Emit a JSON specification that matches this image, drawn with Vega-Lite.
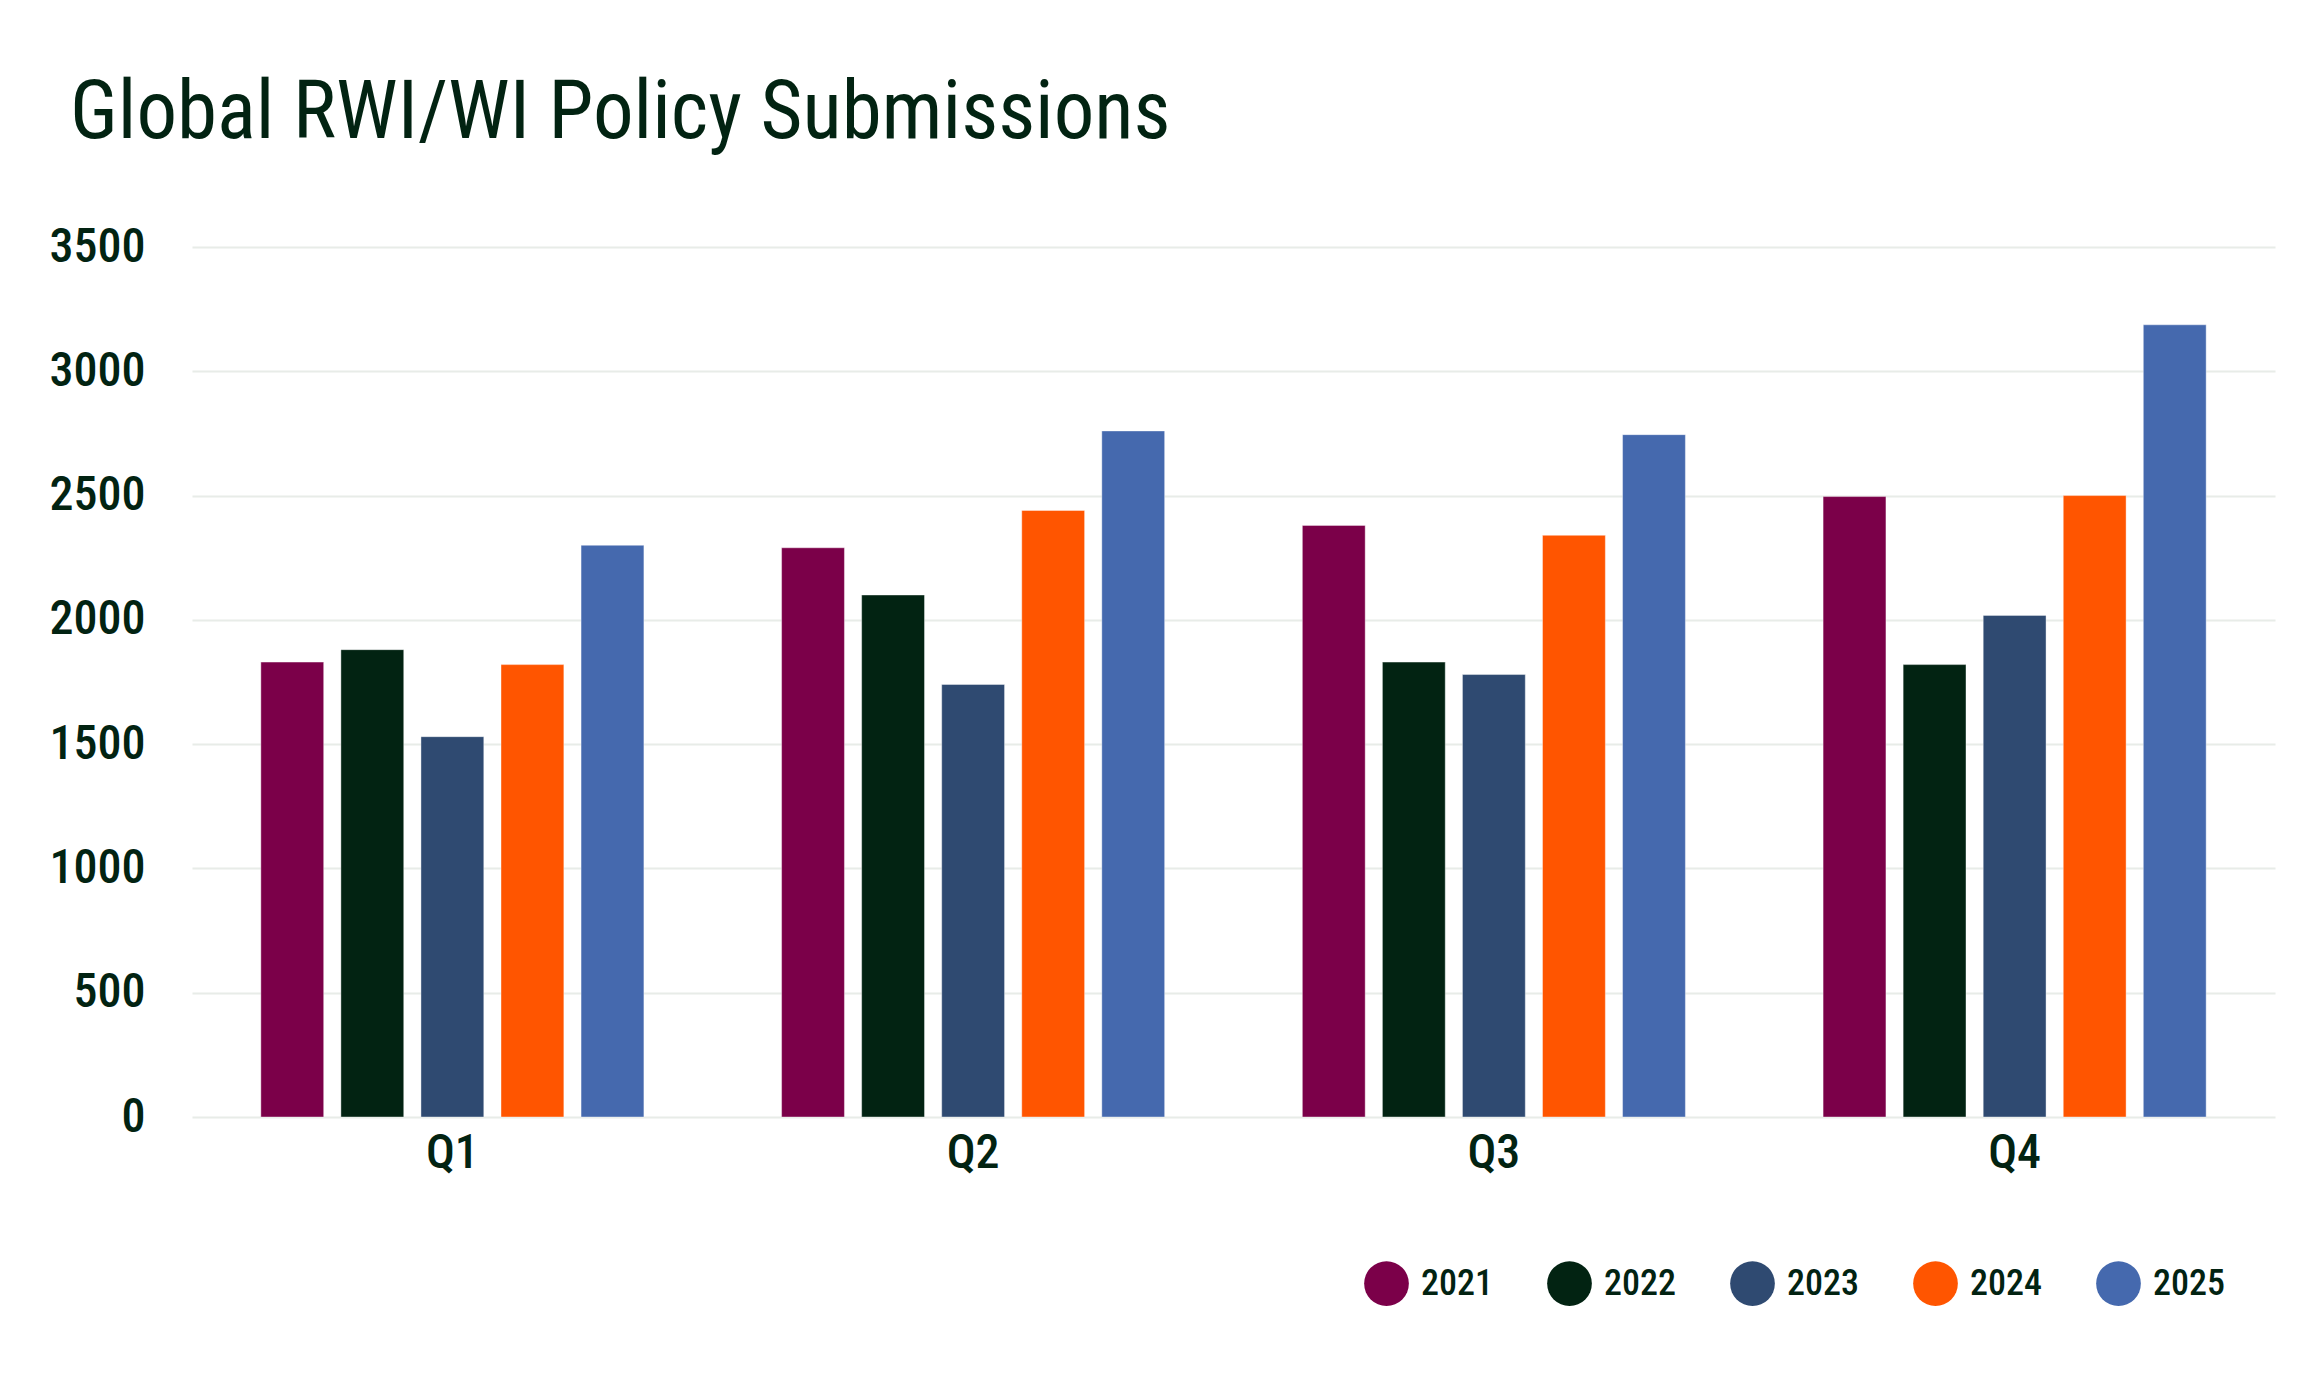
{
  "$schema": "https://vega.github.io/schema/vega-lite/v6.json",
  "width": 2083,
  "height": 870,
  "autosize": "none",
  "padding": {"left": 192, "top": 247, "right": 45, "bottom": 262},
  "background": "#ffffff",
  "title": {
    "text": "Global RWI/WI Policy Submissions",
    "anchor": "start",
    "frame": "group",
    "dx": -122,
    "offset": 68,
    "font": "Roboto Condensed, Roboto, sans-serif",
    "fontSize": 81,
    "fontWeight": "normal",
    "color": "#022312"
  },
  "data": {
    "values": [
      {"quarter": "Q1", "year": "2021", "submissions": 1830},
      {"quarter": "Q1", "year": "2022", "submissions": 1880},
      {"quarter": "Q1", "year": "2023", "submissions": 1530},
      {"quarter": "Q1", "year": "2024", "submissions": 1820},
      {"quarter": "Q1", "year": "2025", "submissions": 2300},
      {"quarter": "Q2", "year": "2021", "submissions": 2290},
      {"quarter": "Q2", "year": "2022", "submissions": 2100},
      {"quarter": "Q2", "year": "2023", "submissions": 1740},
      {"quarter": "Q2", "year": "2024", "submissions": 2440},
      {"quarter": "Q2", "year": "2025", "submissions": 2760},
      {"quarter": "Q3", "year": "2021", "submissions": 2380},
      {"quarter": "Q3", "year": "2022", "submissions": 1830},
      {"quarter": "Q3", "year": "2023", "submissions": 1780},
      {"quarter": "Q3", "year": "2024", "submissions": 2340},
      {"quarter": "Q3", "year": "2025", "submissions": 2745},
      {"quarter": "Q4", "year": "2021", "submissions": 2496},
      {"quarter": "Q4", "year": "2022", "submissions": 1820},
      {"quarter": "Q4", "year": "2023", "submissions": 2018},
      {"quarter": "Q4", "year": "2024", "submissions": 2500},
      {"quarter": "Q4", "year": "2025", "submissions": 3187}
    ]
  },
  "mark": {"type": "bar", "stroke": "#ffffff", "strokeOpacity": 0.4, "strokeWidth": 1},
  "encoding": {
    "x": {
      "field": "quarter",
      "type": "nominal",
      "title": null,
      "scale": {"paddingInner": 0, "paddingOuter": 0},
      "axis": {
        "labelAngle": 0,
        "labelFont": "Roboto Condensed, Roboto, sans-serif",
        "labelFontSize": 48,
        "labelFontWeight": 500,
        "labelColor": "#022312",
        "labelPadding": 12,
        "ticks": false,
        "domain": false,
        "grid": false
      }
    },
    "xOffset": {
      "field": "year",
      "type": "nominal",
      "scale": {"paddingInner": 0.215, "paddingOuter": 0.86}
    },
    "y": {
      "field": "submissions",
      "type": "quantitative",
      "title": null,
      "scale": {"domain": [0, 3500], "nice": false},
      "axis": {
        "values": [0, 500, 1000, 1500, 2000, 2500, 3000, 3500],
        "format": "d",
        "labelFont": "Roboto Condensed, Roboto, sans-serif",
        "labelFontSize": 48,
        "labelFontWeight": 500,
        "labelColor": "#022312",
        "labelPadding": 47,
        "ticks": false,
        "domain": false,
        "gridColor": "#e8ece8",
        "gridWidth": 2
      }
    },
    "color": {
      "field": "year",
      "type": "nominal",
      "title": null,
      "scale": {
        "domain": ["2021", "2022", "2023", "2024", "2025"],
        "range": ["#7b0049", "#022312", "#2f4a71", "#ff5500", "#4569ae"]
      },
      "legend": {
        "orient": "none",
        "direction": "horizontal",
        "legendX": 1172,
        "legendY": 1014,
        "symbolType": "circle",
        "symbolSize": 2000,
        "symbolStrokeWidth": 0,
        "labelFont": "Roboto Condensed, Roboto, sans-serif",
        "labelFontSize": 36,
        "labelFontWeight": 500,
        "labelColor": "#022312",
        "labelOffset": 12,
        "columnPadding": 54
      }
    }
  },
  "config": {
    "view": {"stroke": null}
  }
}
